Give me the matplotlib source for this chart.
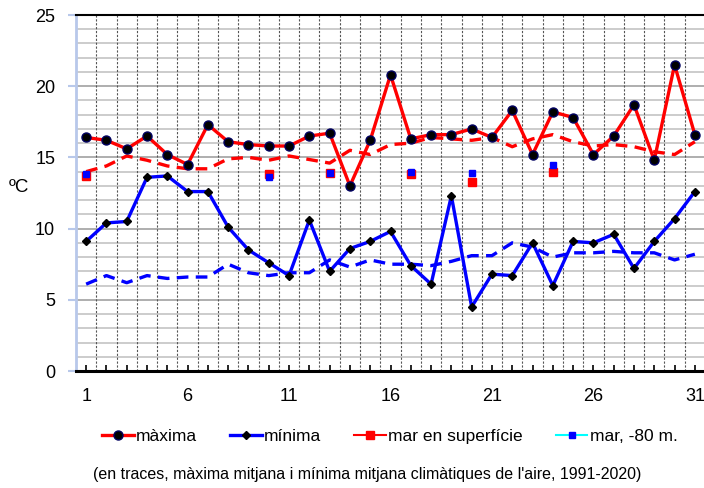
import numpy as np
import matplotlib
matplotlib.use("Agg")
import matplotlib.pyplot as plt
from matplotlib.ticker import MultipleLocator

plt.rcParams['font.family'] = ['Liberation Sans', 'DejaVu Sans']

# dies del mes
dies = np.arange(1, 32)

# temperatura maxima i minima de l'aire
maxima = [16.4, 16.2, 15.6, 16.5, 15.2, 14.5, 17.3, 16.1, 15.9, 15.8,
          15.8, 16.5, 16.7, 13.0, 16.2, 20.8, 16.3, 16.6, 16.6, 17.0,
          16.4, 18.3, 15.2, 18.2, 17.8, 15.2, 16.5, 18.7, 14.8, 21.5, 16.6]
minima = [9.1, 10.4, 10.5, 13.6, 13.7, 12.6, 12.6, 10.1, 8.5, 7.6,
          6.7, 10.6, 7.0, 8.6, 9.1, 9.8, 7.4, 6.1, 12.3, 4.5,
          6.8, 6.7, 9.0, 6.0, 9.1, 9.0, 9.6, 7.2, 9.1, 10.7, 12.6]

# climatologia 1991-2020
max_mitjana = [14.0, 14.4, 15.1, 14.8, 14.4, 14.2, 14.2, 14.9, 15.0, 14.8,
               15.1, 14.85, 14.6, 15.5, 15.2, 15.9, 16.0, 16.4, 16.3, 16.2,
               16.4, 15.75, 16.3, 16.6, 16.1, 15.8, 15.9, 15.75, 15.4, 15.2, 16.1]
min_mitjana = [6.1, 6.7, 6.2, 6.7, 6.5, 6.6, 6.6, 7.5, 6.9, 6.7,
               6.9, 6.9, 7.8, 7.3, 7.8, 7.5, 7.5, 7.4, 7.7, 8.1,
               8.1, 9.0, 8.7, 8.0, 8.3, 8.3, 8.4, 8.3, 8.3, 7.8, 8.2]

# temperatura del mar (només alguns dies)
dies_mar = [1, 10, 13, 17, 20, 24]
mar_superficie = [13.7, 13.8, 13.9, 13.8, 13.3, 14.0]
mar_80m = [13.8, 13.6, 13.9, 14.0, 13.9, 14.5]

sup = np.full(31, np.nan)
fons = np.full(31, np.nan)
for d, s, f in zip(dies_mar, mar_superficie, mar_80m):
    sup[d - 1] = s
    fons[d - 1] = f

fig = plt.figure(figsize=(7.04, 4.88), dpi=100)
ax = fig.add_axes([76 / 704, 1 - 371 / 488, 629 / 704, 356 / 488])

# graella
ax.set_xlim(0.5, 31.5)
ax.set_ylim(0, 25)
ax.yaxis.set_major_locator(MultipleLocator(5))
ax.yaxis.set_minor_locator(MultipleLocator(1))
for v in np.arange(1, 25):
    ax.axhline(v, color='#c8c8c8' if v % 5 else '#a8a8a8', lw=1.3, zorder=0)
for b in np.arange(1.5, 31.5, 1):
    ax.axvline(b, color='#555555', lw=0.8, ls=(0, (2, 1.5)), zorder=0.5)

# climatologia en traces
ax.plot(dies, max_mitjana, color='red', lw=2.4, ls=(0, (3.5, 2.2)), zorder=2)
ax.plot(dies, min_mitjana, color='blue', lw=2.4, ls=(0, (3.5, 2.2)), zorder=2)

l1, = ax.plot(dies, maxima, color='red', lw=2.4, marker='o', ms=6.5,
              mfc='black', mec='#000060', mew=1, zorder=4)
l2, = ax.plot(dies, minima, color='blue', lw=2.4, marker='D', ms=4.5,
              mfc='black', mec='black', zorder=3)
l3, = ax.plot(dies, sup, color='red', lw=1.5, marker='s', ms=6,
              mfc='red', mec='red', zorder=5)
l4, = ax.plot(dies, fons, color='cyan', lw=1.5, marker='s', ms=5,
              mfc='blue', mec='blue', zorder=6)

# eixos
ax.set_xticks(dies)
ax.set_xticklabels([str(d) if (d - 1) % 5 == 0 else '' for d in dies])
ax.tick_params(axis='x', direction='in', length=4, width=1.2, color='black',
               labelsize=13, pad=12)
ax.tick_params(axis='y', which='major', direction='out', length=6, width=1.5,
               color='#b8c8ea', labelsize=13, pad=9)
ax.tick_params(axis='y', which='minor', length=0)
ax.spines['left'].set_color('#b8c8ea')
ax.spines['left'].set_linewidth(2)
ax.spines['top'].set_linewidth(1.5)
ax.spines['bottom'].set_linewidth(2.2)
ax.spines['right'].set_visible(False)

fig.text(19 / 704, 1 - 188 / 488, 'ºC', fontsize=13.5, ha='center', va='center')

fig.legend([l1, l2, l3, l4], ['màxima', 'mínima', 'mar en superfície', 'mar, -80 m.'],
           loc='center', bbox_to_anchor=(390 / 704, 1 - 436 / 488), ncol=4,
           frameon=False, fontsize=12.5, handlelength=1.8, handletextpad=0.15,
           columnspacing=1.9)

fig.text(367 / 704, 1 - 474 / 488,
         "(en traces, màxima mitjana i mínima mitjana climàtiques de l'aire, 1991-2020)",
         fontsize=11.5, ha='center', va='center')

fig.savefig('out.png', dpi=100)
